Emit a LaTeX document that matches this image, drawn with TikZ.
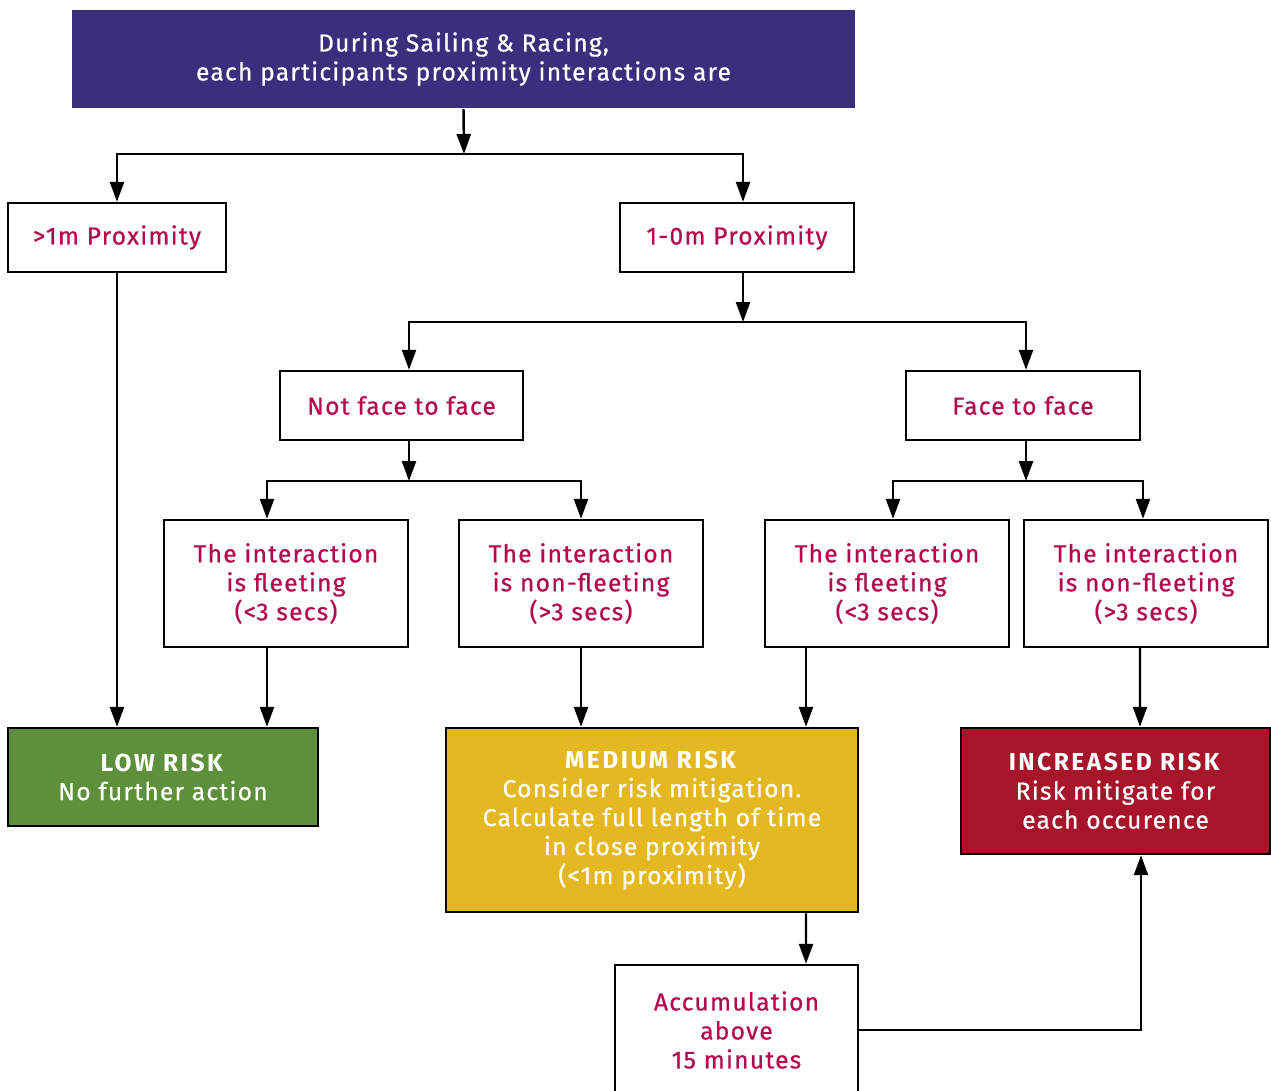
\documentclass[tikz,border=0pt]{standalone}
\usepackage{fontspec}
\setmainfont{Fira Sans}[LetterSpace=5,UprightFeatures={FakeBold=0.6},BoldFeatures={LetterSpace=10}]
\usetikzlibrary{arrows.meta,calc}
\definecolor{titleblue}{HTML}{3B2E7C}
\definecolor{textred}{HTML}{B2094F}
\definecolor{lowgreen}{HTML}{5E8F3B}
\definecolor{medyellow}{HTML}{E3B820}
\definecolor{incred}{HTML}{A8152B}

\begin{document}
\begin{tikzpicture}[x=0.02cm,y=-0.02cm,
    box/.style={draw=black,line width=1.4pt,fill=white,text=textred,align=center,
        inner sep=0pt,font=\fontsize{14}{16.5}\selectfont},
    riskbox/.style={box,text=white},
    arr/.style={line width=1.4pt,-{Triangle[length=0.4cm,width=0.28cm]}}]
    \useasboundingbox (0,0) rectangle (1271,1090);

    % boxes
    \node[riskbox,fill=titleblue,draw=none,minimum width=783*0.02cm,minimum height=98*0.02cm]
        (title) at (463.5,59) {During Sailing \& Racing,\\each participants proximity interactions are};
    \node[box,minimum width=218*0.02cm,minimum height=69*0.02cm] (far) at (117,237.5) {>1m Proximity};
    \node[box,minimum width=234*0.02cm,minimum height=69*0.02cm] (near) at (737,237.5) {1-0m Proximity};
    \node[box,minimum width=243*0.02cm,minimum height=69*0.02cm] (notface) at (401.5,405.5) {Not face to face};
    \node[box,minimum width=234*0.02cm,minimum height=69*0.02cm] (face) at (1023,405.5) {Face to face};
    \node[box,minimum width=244*0.02cm,minimum height=127*0.02cm] (fl1) at (286,583.5) {The interaction\\is fleeting\\(<3 secs)};
    \node[box,minimum width=244*0.02cm,minimum height=127*0.02cm] (nf1) at (581,583.5) {The interaction\\is non-fleeting\\(>3 secs)};
    \node[box,minimum width=244*0.02cm,minimum height=127*0.02cm] (fl2) at (887,583.5) {The interaction\\is fleeting\\(<3 secs)};
    \node[box,minimum width=244*0.02cm,minimum height=127*0.02cm] (nf2) at (1146,583.5) {The interaction\\is non-fleeting\\(>3 secs)};
    \node[riskbox,fill=lowgreen,minimum width=310*0.02cm,minimum height=98*0.02cm]
        (low) at (163,777) {\textbf{LOW RISK}\\No further action};
    \node[riskbox,fill=medyellow,minimum width=412*0.02cm,minimum height=184*0.02cm]
        (med) at (652,820) {\textbf{MEDIUM RISK}\\Consider risk mitigation.\\Calculate full length of time\\in close proximity\\(<1m proximity)};
    \node[riskbox,fill=incred,minimum width=309*0.02cm,minimum height=126*0.02cm]
        (inc) at (1115.5,791) {\textbf{INCREASED RISK}\\Risk mitigate for\\each occurence};
    \node[box,minimum width=243*0.02cm,minimum height=130*0.02cm] (acc) at (736.5,1030) {Accumulation\\above\\15 minutes};

    % splits
    \coordinate (j1) at (464,154);
    \coordinate (j2) at (743,322);
    \coordinate (j3) at (409,481);
    \coordinate (j4) at (1026,481);

    \draw[arr] (title.south) -- (j1);
    \draw[arr] (j1) -| (far);
    \draw[arr] (j1) -| ($(near.north)+(6,0)$);
    \draw[arr] (near.south -| j2) -- (j2);
    \draw[arr] (j2) -| ($(notface.north)+(7.5,0)$);
    \draw[arr] (j2) -| ($(face.north)+(3,0)$);
    \draw[arr] (notface.south -| j3) -- (j3);
    \draw[arr] (j3) -| ($(fl1.north)+(-19,0)$);
    \draw[arr] (j3) -| (nf1);
    \draw[arr] (face.south -| j4) -- (j4);
    \draw[arr] (j4) -| ($(fl2.north)+(6,0)$);
    \draw[arr] (j4) -| ($(nf2.north)+(-3,0)$);

    % outcomes
    \draw[arr] (far.south) -- ($(low.north)+(-46,0)$);
    \draw[arr] ($(fl1.south)+(-19,0)$) -- ($(low.north)+(104,0)$);
    \draw[arr] (nf1.south) -- ($(med.north)+(-71,0)$);
    \draw[arr] ($(fl2.south)+(-81,0)$) -- ($(med.north)+(154,0)$);
    \draw[arr] ($(nf2.south)+(-6,0)$) -- ($(inc.north)+(24.5,0)$);
    \draw[arr] ($(med.south)+(154,0)$) -- ($(acc.north)+(69.5,0)$);
    \draw[arr] (acc.east) -| ($(inc.south)+(25.5,0)$);
\end{tikzpicture}
\end{document}
